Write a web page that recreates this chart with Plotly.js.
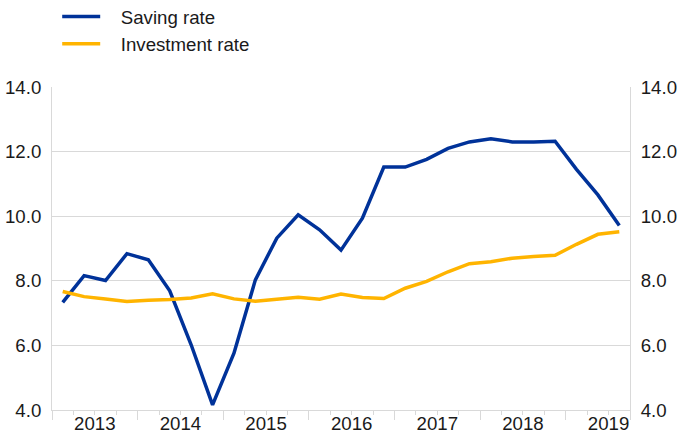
<!DOCTYPE html>
<html>
<head>
<meta charset="utf-8">
<script src="https://cdn.plot.ly/plotly-3.0.1.min.js"></script>
<style>
  html, body { margin: 0; padding: 0; background: #fff; }
  #chart { width: 677px; height: 434px; }
</style>
</head>
<body>
<div id="chart"></div>
<script>
// Quarterly observations, 2013 Q1 - 2019 Q3
const quarters = [
  "2013Q1","2013Q2","2013Q3","2013Q4",
  "2014Q1","2014Q2","2014Q3","2014Q4",
  "2015Q1","2015Q2","2015Q3","2015Q4",
  "2016Q1","2016Q2","2016Q3","2016Q4",
  "2017Q1","2017Q2","2017Q3","2017Q4",
  "2018Q1","2018Q2","2018Q3","2018Q4",
  "2019Q1","2019Q2","2019Q3"
];
const savingRate = [
  7.33, 8.16, 8.01, 8.84,
  8.65, 7.69, 6.02, 4.16,
  5.76, 8.03, 9.32, 10.04,
  9.58, 8.95, 9.94, 11.52,
  11.52, 11.76, 12.10, 12.30,
  12.40, 12.30, 12.30, 12.32,
  11.45, 10.66, 9.71
];
const investmentRate = [
  7.67, 7.51, 7.44, 7.36,
  7.40, 7.42, 7.47, 7.60,
  7.44, 7.37, 7.43, 7.49,
  7.43, 7.59, 7.48, 7.45,
  7.77, 7.98, 8.28, 8.53,
  8.59, 8.70, 8.75, 8.79,
  9.13, 9.44, 9.52
];
const seriesNames = ["Saving rate", "Investment rate"];
const years = ["2013","2014","2015","2016","2017","2018","2019"];
const yTicks = [4, 6, 8, 10, 12, 14];

const xIdx = quarters.map((q, i) => i);
const yearCentres = years.map((y, i) => i * 4 + 1.5);
const yearBounds = years.map((y, i) => i * 4 - 0.5).concat([quarters.length - 0.5]);

const FONT = 'Liberation Sans, Arial, sans-serif';
const FS = 18.67;
const TXT = '#1a1a1a';
const GRID = '#d9d9d9';
const xr = [-0.5, quarters.length - 0.5];
const GAP = '\u00a0\u00a0\u00a0';

const traces = [
  {
    x: xIdx, y: savingRate, name: GAP + seriesNames[0],
    type: 'scatter', mode: 'lines',
    line: { color: '#003299', width: 3.5 },
    xaxis: 'x', yaxis: 'y', hoverinfo: 'skip'
  },
  {
    x: xIdx, y: investmentRate, name: GAP + seriesNames[1],
    type: 'scatter', mode: 'lines',
    line: { color: '#FFB400', width: 3.5 },
    xaxis: 'x2', yaxis: 'y2', hoverinfo: 'skip'
  }
];

const layout = {
  width: 677, height: 434,
  margin: { l: 52, r: 47, t: 87, b: 24, pad: 0, autoexpand: false },
  paper_bgcolor: '#ffffff', plot_bgcolor: '#ffffff',
  font: { family: FONT, size: FS, color: TXT },
  showlegend: true,
  legend: {
    x: 0.009, xanchor: 'left', y: 1.276, yanchor: 'top',
    orientation: 'v', bgcolor: 'rgba(0,0,0,0)',
    font: { family: FONT, size: FS, color: TXT },
    itemwidth: 38, tracegroupgap: 0
  },
  xaxis: {
    range: xr, showgrid: false, zeroline: false,
    showline: true, linecolor: GRID, linewidth: 1,
    tickmode: 'array', tickvals: yearBounds,
    ticks: 'outside', ticklen: 9, tickcolor: GRID, tickwidth: 1,
    showticklabels: false,
    minor: { tickmode: 'linear', tick0: -0.5, dtick: 1, ticks: 'outside', ticklen: 4, tickcolor: GRID, tickwidth: 1, showgrid: false }
  },
  xaxis2: {
    range: xr, overlaying: 'x', anchor: 'y', side: 'bottom',
    showgrid: false, zeroline: false, showline: false,
    tickmode: 'array', tickvals: yearCentres, ticktext: years,
    ticks: '', ticklabelstandoff: 0,
    tickfont: { family: FONT, size: FS, color: TXT }
  },
  yaxis: {
    range: [4, 14], tickmode: 'array', tickvals: yTicks, tickformat: '.1f',
    showgrid: true, gridcolor: GRID, gridwidth: 1, zeroline: false,
    showline: true, linecolor: GRID, linewidth: 1,
    ticks: '', ticklabelstandoff: 6,
    tickfont: { family: FONT, size: FS, color: TXT }
  },
  yaxis2: {
    range: [4, 14], overlaying: 'y', side: 'right', anchor: 'x',
    tickmode: 'array', tickvals: yTicks, tickformat: '.1f',
    showgrid: false, zeroline: false,
    showline: true, linecolor: GRID, linewidth: 1,
    ticks: '', ticklabelstandoff: 6,
    tickfont: { family: FONT, size: FS, color: TXT }
  }
};

Plotly.newPlot('chart', traces, layout, { staticPlot: true, displayModeBar: false });
</script>
</body>
</html>
